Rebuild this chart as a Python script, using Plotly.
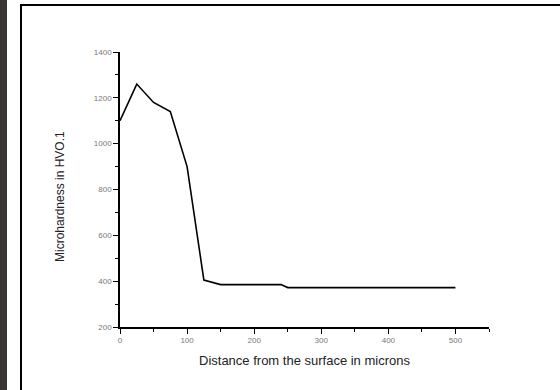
import plotly.graph_objects as go

distance = [0, 25, 50, 75, 100, 125, 150, 240, 250, 500]
hardness = [1100, 1260, 1180, 1140, 900, 405, 385, 385, 372, 372]

y_ticks = [200, 400, 600, 800, 1000, 1200, 1400]
y_tick_labels = ["200", "400", "600", "800", "1000", "1200", "1400"]
x_ticks = [0, 100, 200, 300, 400, 500]
x_tick_labels = ["0", "100", "200", "300", "400", "500"]

x_title = "Distance from the surface in microns"
y_title = "Microhardness in HVO.1"

fig = go.Figure()
fig.add_trace(go.Scatter(x=distance, y=hardness, mode="lines",
                         line=dict(color="black", width=1.6), showlegend=False))

W, H = 560, 390
L, R, T, B = 120, 71, 52, 63
pw, ph = W - L - R, H - T - B

def px(xp):
    return (xp - L) / pw

def py(yp):
    return (H - B - yp) / ph

fig.update_layout(
    width=W, height=H,
    margin=dict(l=L, r=R, t=T, b=B),
    paper_bgcolor="white", plot_bgcolor="white",
    font=dict(family="Liberation Sans, Arial", color="#333"),
    xaxis=dict(range=[0, 550], showgrid=False, zeroline=False,
               showline=True, linecolor="black", linewidth=1.6,
               tickmode="array", tickvals=x_ticks, ticktext=x_tick_labels,
               ticks="outside", ticklen=5, tickwidth=1.4, tickcolor="black",
               tickfont=dict(size=8, color="#777"),
               minor=dict(tickmode="array", tickvals=[50, 150, 250, 350, 450, 550],
                          ticks="outside", ticklen=3, tickwidth=1.4, tickcolor="black")),
    yaxis=dict(range=[200, 1400], showgrid=False, zeroline=False,
               showline=True, linecolor="black", linewidth=1.6,
               tickmode="array", tickvals=y_ticks, ticktext=y_tick_labels,
               ticks="outside", ticklen=5, tickwidth=1.4, tickcolor="black",
               tickfont=dict(size=8, color="#777"),
               minor=dict(tickmode="array", tickvals=[300, 500, 700, 900, 1100, 1300],
                          ticks="outside", ticklen=3, tickwidth=1.4, tickcolor="black")),
    shapes=[
        dict(type="rect", xref="paper", yref="paper",
             x0=px(-2), x1=px(7), y0=py(400), y1=py(-10),
             fillcolor="#3b3631", line=dict(width=0), layer="below"),
        dict(type="rect", xref="paper", yref="paper",
             x0=px(21), x1=px(600), y0=py(420), y1=py(5),
             fillcolor="rgba(0,0,0,0)", line=dict(color="black", width=2)),
    ],
    annotations=[
        dict(text=x_title, xref="paper", yref="paper", x=0.5, y=py(360),
             showarrow=False, font=dict(size=13, color="#222"),
             xanchor="center", yanchor="middle"),
        dict(text=y_title, xref="paper", yref="paper", x=px(60), y=py(197),
             showarrow=False, font=dict(size=12, color="#222"), textangle=-90,
             xanchor="center", yanchor="middle"),
    ],
)

fig.write_html("out.html")
